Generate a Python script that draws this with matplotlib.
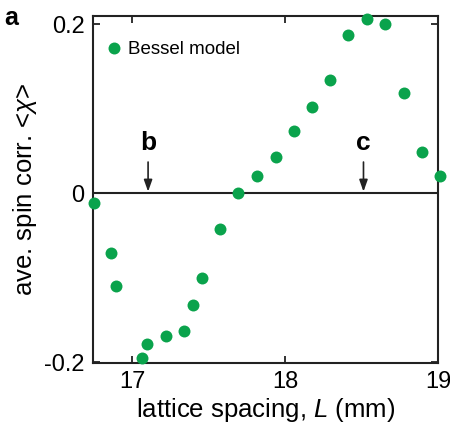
import matplotlib
matplotlib.use("Agg")
import matplotlib.pyplot as plt

plt.rcParams['font.family'] = ['Liberation Sans', 'DejaVu Sans']
plt.rcParams['mathtext.fontset'] = 'custom'
plt.rcParams['mathtext.it'] = 'Liberation Sans:italic'
plt.rcParams['mathtext.rm'] = 'Liberation Sans'

# Data (lattice spacing L in mm, average spin correlation)
L_mm = [16.75, 16.862, 16.895, 17.063, 17.10, 17.223, 17.343, 17.398, 17.459,
        17.575, 17.693, 17.818, 17.938, 18.058, 18.176, 18.294, 18.414, 18.534,
        18.652, 18.775, 18.893, 19.015]
spin_corr = [-0.0115, -0.0702, -0.1097, -0.195, -0.178, -0.169, -0.163, -0.132, -0.1006,
             -0.0418, 0.0, 0.0205, 0.0434, 0.0737, 0.1018, 0.1346, 0.188, 0.2067,
             0.200, 0.119, 0.0489, 0.0201]
series_label = "Bessel model"
x_ticks = [17, 18, 19]
y_ticks = [-0.2, 0, 0.2]
y_ticklabels = ["-0.2", "0", "0.2"]
markers_L = [17.105, 18.513]
markers_txt = ["b", "c"]

green = '#0aa34c'

fig = plt.figure(figsize=(4.5, 4.29), dpi=100)
ax = fig.add_axes([0.2067, 0.1538, 0.7666, 0.809])

ax.plot(L_mm, spin_corr, 'o', color=green, markersize=8.6, markeredgewidth=0,
        label=series_label, clip_on=False, zorder=3)
ax.axhline(0, color='#222222', lw=1.5, zorder=2)

for xv, t in zip(markers_L, markers_txt):
    ax.annotate('', xy=(xv, 0.002), xytext=(xv, 0.037),
                arrowprops=dict(arrowstyle='-|>,head_length=0.7,head_width=0.25',
                                color='#222222', lw=1.2, shrinkA=0, shrinkB=0))
    ax.text(xv, 0.045, t, ha='center', va='bottom', fontsize=19, fontweight='bold')

ax.set_xlim(16.745, 19.0)
ax.set_ylim(-0.201, 0.21)
ax.set_xticks(x_ticks)
ax.set_yticks(y_ticks)
ax.set_yticklabels(y_ticklabels)
ax.tick_params(direction='in', length=5, width=1.3, labelsize=17, top=True, right=True,
               color='#222222', pad=6)
for s in ax.spines.values():
    s.set_linewidth(1.5)
    s.set_color('#222222')

ax.set_xlabel(r'lattice spacing, $L$ (mm)', fontsize=18.5, labelpad=2)
ax.set_ylabel(r'ave. spin corr. <$\chi$>', fontsize=18.5, labelpad=4)

ax.legend(loc='upper left', frameon=False, fontsize=13.5, handletextpad=0.25,
          borderaxespad=0.5, handlelength=1.0, borderpad=0.3,
          bbox_to_anchor=(-0.01, 0.97))

fig.text(0.01, 0.985, 'a', fontsize=18, fontweight='bold', ha='left', va='top')

fig.savefig('out.png', dpi=100)
